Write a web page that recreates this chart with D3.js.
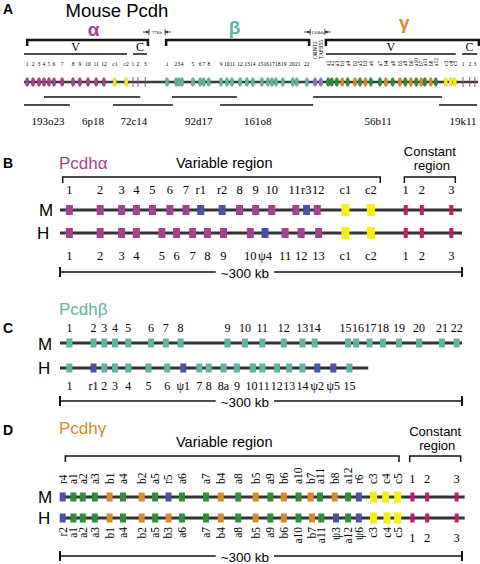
<!DOCTYPE html>
<html><head><meta charset="utf-8">
<script src="https://cdn.jsdelivr.net/npm/d3@7"></script>
<style>body{margin:0;background:#fff}</style>
</head><body>
<script>
// ---------------- DATA ----------------
// Panel A (mouse locus, positions in approx. kb)
const aAlphaNames = ["1","2","3","4","5","6","7","8","9","10","11","12","c1","c2"];
const aAlphaPos   = [7,20,33,44,55,66,84,108,123,141,159,176,200,225];
const aConstNames = ["1","2","3"];
const aAlphaConstPos = [240,251,267];
const aBetaNames = ["1","2","3","4","5","6","7","8","9","10","11","12","13","14","15","16","17","18","19","20","21","22"];
const aBetaPos   = [315,335,341,348,372,388,396,407,434,447,458,476,491,504,524,537,546,555,570,592,601,623];
const aOtherNames = ["ORNT2","TAFII55"];
const aOtherPos   = [641,654];
const aGammaNames = ["a1","a2","a3","b1","a4","b2","a5","b3","a6","a7","b4","a8","b5","a9","b6","a10","b7","a11","b8","a12","c3","c4","c5"];
const aGammaPos   = [670,678,689,701,713,729,740,752,764,784,797,812,828,840,852,864,875,883,896,907,929,940,949];
const aGammaConstPos = [967,982,993];
const clusterNames = ["α","β","γ"];
const clusterStart = [7,313,665];
const clusterEnd   = [273,628,1002];
const subNames = ["V","C","V","C"];
const subStart = [0,240,665,965];
const subEnd   = [227,271,951,998];
const gapLabels = ["77kb","110kb"];
const cloneNames = ["193o23","6p18","72c14","92d17","161o8","56b11","19k11"];
const cloneStart = [0,44,196,326,432,637,914];
const cloneEnd   = [101,256,328,469,637,921,998];
const cloneRow   = [1,0,1,0,1,0,1];
const cloneLabelAt = [53,152,242,385,515,780,967];

// Panel B (Pcdh alpha)
const bMNames = ["1","2","3","4","5","6","7","r1","r2","8","9","10","11","r3","12","c1","c2"];
const bMPos   = [7,30,46,57,69,82,94,105,121,134,146,158,176,184,192,213,232];
const bHNames = ["1","2","3","4","5","6","7","8","9","10","ψ4","11","12","13","c1","c2"];
const bHPos   = [7,30,46,57,76,87,99,110,122,142,153,168,180,193,213,232];
const constNames = ["1","2","3"];
const bConstPos = [258,270,292];
const bRegions = ["Variable region","Constant region"];
const bRegionStart = [2,257];
const bRegionEnd   = [239,295];

// Panel C (Pcdh beta)
const cMNames = ["1","2","3","4","5","6","7","8","9","10","11","12","13","14","15","16","17","18","19","20","21","22"];
const cMPos   = [7,25,33,41,51,68,79,90,125,138,151,167,181,190,215,221,231,241,253,268,285,296];
const cHNames = ["1","r1","2","3","4","5","6","ψ1","7","8","8a","9","10","11","12","13","14","ψ2","ψ5","15"];
const cHPos   = [7,25,33,41,51,66,80,92,104,111,122,132,144,151,162,171,181,192,204,216];
const cHLineEnd = 230;

// Panel D (Pcdh gamma)
const dMNames = ["r4","a1","a2","a3","b1","a4","b2","a5","r5","a6","a7","b4","a8","b5","a9","b6","a10","b7","a11","b8","a12","r6","c3","c4","c5"];
const dMPos   = [2,10,17,26,37,47,61,71,81,91,109,120,133,146,157,167,178,187,194,205,215,223,234,243,252];
const dHNames = ["r2","a1","a2","a3","b1","a4","b2","a5","b3","a6","a7","b4","a8","b5","a9","b6","a10","b7","a11","ψ3","a12","ψ6","c3","c4","c5"];
const dHPos   = [2,10,17,26,37,47,61,71,81,91,109,120,133,146,157,167,178,188,195,206,215,223,234,244,252];
const dConstPos = [263,274,296];
const dRegionStart = [4,261];
const dRegionEnd   = [253,299];

// ---------------- STYLE ----------------
const SANS = "'Liberation Sans', Arial, Helvetica, sans-serif";
const SERIF = "'Liberation Serif', 'Times New Roman', serif";
const COL = {alpha:"#a4428e", konst:"#c4186c", blue:"#4a52a8", yellow:"#f4ee12", teal:"#62b4a2",
             green:"#2f8f38", orange:"#d68a2c", purple:"#8c78b8", line:"#333", aConst:"#9a4a8e"};
const clusterColors = [COL.alpha, COL.teal, COL.orange];

const W = 480, H = 564;
const svg = d3.select("body").append("svg").attr("width", W).attr("height", H)
  .style("font-family", SANS).style("background", "#fff");

function txt(x, y, s, size, opts = {}) {
  const t = svg.append("text").attr("x", x).attr("y", y).attr("font-size", size).text(s);
  if (opts.anchor) t.attr("text-anchor", opts.anchor);
  if (opts.font) t.attr("font-family", opts.font);
  if (opts.weight) t.attr("font-weight", opts.weight);
  if (opts.fill) t.attr("fill", opts.fill);
  return t;
}
function line(x1, y1, x2, y2, w, c = "#111") {
  return svg.append("line").attr("x1", x1).attr("y1", y1).attr("x2", x2).attr("y2", y2)
    .attr("stroke", c).attr("stroke-width", w);
}
function vtext(x, y, s, size, anchor) {
  return svg.append("text").attr("transform", `translate(${x},${y}) rotate(-90)`)
    .attr("text-anchor", anchor).attr("dy", "0.34em").attr("font-size", size)
    .attr("font-family", SERIF).text(s);
}
// measure + de-overlap a row of horizontal labels (keeps clusters centred on their genes)
const measurer = svg.append("text").attr("font-family", SERIF).attr("visibility", "hidden");
function measure(s, size) { measurer.attr("font-size", size).text(s); return measurer.node().getComputedTextLength(); }
function packRow(names, xs, size, gap) {
  const items = names.map((n, i) => ({n, x: xs[i], w: measure(n, size)}));
  let groups = items.map(d => ({items: [d]}));
  const gw = g => d3.sum(g.items, d => d.w) + gap * (g.items.length - 1);
  const gc = g => d3.mean(g.items, d => d.x);
  let merged = true;
  while (merged) {
    merged = false;
    for (let i = 1; i < groups.length; i++) {
      const a = groups[i - 1], b = groups[i];
      if (gc(a) + gw(a) / 2 + gap > gc(b) - gw(b) / 2) {
        groups.splice(i - 1, 2, {items: a.items.concat(b.items)});
        merged = true; break;
      }
    }
  }
  const out = [];
  groups.forEach(g => {
    let x = gc(g) - gw(g) / 2;
    g.items.forEach(d => { out.push(x + d.w / 2); x += d.w + gap; });
  });
  return out;
}

// ---------------- PANEL A ----------------
const xA = d3.scaleLinear().domain([0, 1000]).range([24, 478]);
const yA = {bracket: 40, vc: 54, num: 66, gene: 82, cloneUp: 97, cloneLow: 105, cloneLabel: 125};

txt(3, 14, "A", 14, {weight: "bold"});
txt(117, 17, "Mouse Pcdh", 18.5, {anchor: "middle"});

const greekY = [36, 34, 29];
const greekShift = [6, -3, 2];
clusterNames.forEach((n, i) => {
  const x0 = xA(clusterStart[i]), x1 = xA(clusterEnd[i]);
  txt((x0 + x1) / 2 + greekShift[i], greekY[i], n, 19, {anchor: "middle", weight: "bold", fill: clusterColors[i]});
  svg.append("path").attr("d", `M${x0},${yA.bracket + 6}V${yA.bracket}H${x1}V${yA.bracket + 6}`)
    .attr("fill", "none").attr("stroke", "#111").attr("stroke-width", 2.5);
});
// gaps between clusters
gapLabels.forEach((g, i) => {
  const x0 = xA(clusterEnd[i]) + 1, x1 = xA(clusterStart[i + 1]) - 1, y = 32;
  line(x0, y - 3, x0, y + 3, 0.8);
  line(x1, y - 3, x1, y + 3, 0.8);
  line(x0 - 6, y, x0, y, 0.8);
  line(x1, y, x1 + 6, y, 0.8);
  svg.append("path").attr("d", `M${x0},${y}l-2.5,-1.5v3z`).attr("fill", "#111");
  svg.append("path").attr("d", `M${x1},${y}l2.5,-1.5v3z`).attr("fill", "#111");
  txt((x0 + x1) / 2, y + 2, g, 5, {anchor: "middle", font: SERIF});
});
// V / C sub-region lines
subNames.forEach((n, i) => {
  const x0 = xA(subStart[i]), x1 = xA(subEnd[i]);
  line(x0, yA.vc, x1, yA.vc, 1.5);
  txt((x0 + x1) / 2, yA.vc - 3, n, 12, {anchor: "middle", font: SERIF});
});
// gene line
line(xA(0), yA.gene, xA(1000), yA.gene, 2.6, "#3a3a3a");

function aColor(name, base) {
  if (name[0] === "c") return COL.yellow;
  if (name[0] === "a") return COL.green;
  if (name[0] === "b") return COL.orange;
  return base;
}
function aGenes(names, pos, base, rotated) {
  const xs = pos.map(p => xA(p));
  const lx = rotated ? xs : packRow(names, xs, 5.5, 0.3);
  names.forEach((n, i) => {
    svg.append("ellipse").attr("cx", xs[i]).attr("cy", yA.gene).attr("rx", 1.9).attr("ry", 4.6)
      .attr("fill", aColor(n, base)).attr("stroke", "rgba(0,0,0,0.25)").attr("stroke-width", 0.4);
    if (rotated) vtext(xs[i], yA.num, n, 5.5, "start");
    else txt(lx[i], yA.num, n, 5.5, {anchor: "middle", font: SERIF});
  });
}
aGenes(aAlphaNames, aAlphaPos, COL.alpha, false);
aGenes(aBetaNames, aBetaPos, COL.teal, false);
aGenes(aGammaNames, aGammaPos, COL.green, true);
aOtherNames.forEach((n, i) => {
  const x = xA(aOtherPos[i]);
  svg.append("ellipse").attr("cx", x).attr("cy", yA.gene).attr("rx", 2.1).attr("ry", 4.6).attr("fill", COL.purple);
  vtext(x, 59, n, 5.5, "start");
});
[aAlphaConstPos, aGammaConstPos].forEach(arr => {
  arr.forEach((p, i) => {
    const x = xA(p);
    line(x, yA.gene - 5, x, yA.gene + 5, 1, COL.aConst);
    txt(x, yA.num, aConstNames[i], 5.5, {anchor: "middle", font: SERIF});
  });
});
// BAC clones
cloneNames.forEach((n, i) => {
  const y = cloneRow[i] ? yA.cloneLow : yA.cloneUp;
  line(xA(cloneStart[i]), y, xA(cloneEnd[i]), y, 1.6);
  txt(xA(cloneLabelAt[i]), yA.cloneLabel, n, 11, {anchor: "middle", font: SERIF});
});

// ---------------- PANELS B–D ----------------
const xK = d3.scaleLinear().domain([0, 300]).range([60, 462]);

function geneColor(name, family) {
  const c = name[0];
  if (c === "r" || c === "ψ") return COL.blue;
  if (c === "c") return COL.yellow;
  if (family === "gamma") return c === "a" ? COL.green : COL.orange;
  return family === "alpha" ? COL.alpha : COL.teal;
}
function row(y, names, pos, family, w, h, lineEnd) {
  line(xK(0), y, xK(lineEnd), y, 3, COL.line);
  svg.append("g").selectAll("rect").data(names).join("rect")
    .attr("x", (d, i) => xK(pos[i]) - (d[0] === "c" ? w + 1 : w) / 2)
    .attr("y", d => y - (d[0] === "c" ? h + 2 : h) / 2)
    .attr("width", d => d[0] === "c" ? w + 1 : w)
    .attr("height", d => d[0] === "c" ? h + 2 : h)
    .attr("fill", d => geneColor(d, family));
}
function constGenes(y, pos, h) {
  svg.append("g").selectAll("rect").data(pos).join("rect")
    .attr("x", d => xK(d) - 2).attr("y", y - h / 2).attr("width", 4).attr("height", h)
    .attr("fill", COL.konst);
}
function labels(y, names, pos, size) {
  const lx = packRow(names, pos.map(p => xK(p)), size, 0.5);
  names.forEach((n, i) => txt(lx[i], y, n, size, {anchor: "middle", font: SERIF}));
}
function scaleBar(y) {
  const x0 = xK(0), x1 = xK(300), cx = xK(138);
  const t = txt(cx, y + 6, "~300 kb", 13.5, {anchor: "middle"});
  const wT = t.node().getComputedTextLength();
  line(x0, y, cx - wT / 2 - 5, y, 1.3);
  line(cx + wT / 2 + 5, y, x1, y, 1.3);
  line(x0, y - 5, x0, y + 5, 2);
  line(x1, y - 5, x1, y + 5, 2);
}
function bracket(s, e, y) {
  svg.append("path").attr("d", `M${xK(s)},${y + 6}V${y}H${xK(e)}V${y + 6}`)
    .attr("fill", "none").attr("stroke", "#111").attr("stroke-width", 1.5);
}
function regionHeaders(starts, ends, yBr, yVar, yConst1, yConst2) {
  bracket(starts[0], ends[0], yBr);
  bracket(starts[1], ends[1], yBr);
  txt(176, yVar, bRegions[0], 14.5);
  const cx = (xK(starts[1]) + xK(ends[1])) / 2;
  txt(cx, yConst1, "Constant", 13, {anchor: "middle"});
  txt(cx + 2, yConst2, "region", 13, {anchor: "middle"});
}

// Panel B
txt(3, 168, "B", 14, {weight: "bold"});
txt(59, 169, "Pcdhα", 17, {fill: COL.alpha});
regionHeaders(bRegionStart, bRegionEnd, 177, 168, 156, 170);
labels(194, bMNames, bMPos, 12.5);
labels(194, constNames, bConstPos, 12.5);
txt(39, 216, "M", 17);
txt(37, 239, "H", 17);
row(210, bMNames, bMPos, "alpha", 7, 10, 300);
constGenes(210, bConstPos, 10);
row(233, bHNames, bHPos, "alpha", 7, 10, 300);
constGenes(233, bConstPos, 10);
labels(260, bHNames, bHPos, 12.5);
labels(260, constNames, bConstPos, 12.5);
scaleBar(272);

// Panel C
txt(3, 333, "C", 14, {weight: "bold"});
txt(59, 315, "Pcdhβ", 17, {fill: COL.teal});
labels(332, cMNames, cMPos, 12);
txt(38, 350, "M", 17);
txt(38, 374, "H", 17);
row(343, cMNames, cMPos, "beta", 6, 9, 300);
row(368, cHNames, cHPos, "beta", 6, 9, cHLineEnd);
labels(390, cHNames, cHPos, 12);
scaleBar(401);

// Panel D
txt(3, 435, "D", 14, {weight: "bold"});
txt(59, 434, "Pcdhγ", 17, {fill: COL.orange});
regionHeaders(dRegionStart, dRegionEnd, 456, 447, 436, 450);
dMNames.forEach((n, i) => vtext(xK(dMPos[i]), 484, n, 11.5, "start"));
labels(483, constNames, dConstPos, 12.5);
txt(38, 503, "M", 17);
txt(38, 524, "H", 17);
row(497, dMNames, dMPos, "gamma", 6, 9, 302);
constGenes(497, dConstPos, 9);
row(518, dHNames, dHPos, "gamma", 6, 9, 302);
constGenes(518, dConstPos, 9);
dHNames.forEach((n, i) => vtext(xK(dHPos[i]), 527, n, 11.5, "end"));
labels(542, constNames, dConstPos, 12.5);
scaleBar(556);
</script>
</body></html>
